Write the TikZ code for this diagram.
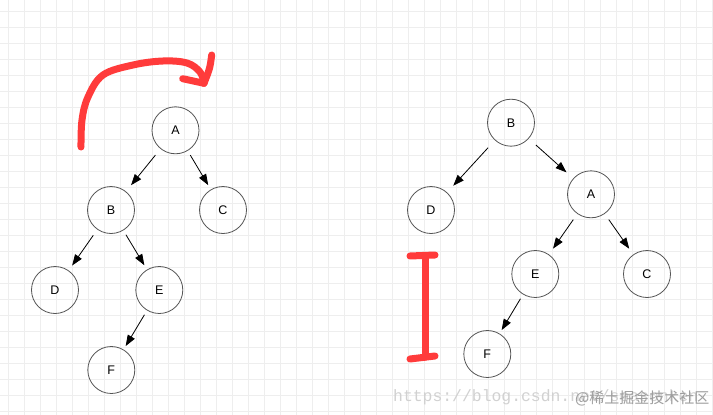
\documentclass[tikz,border=0pt]{standalone}
\usepackage{fontspec}
\setmainfont{Liberation Sans}
\newfontfamily\monofont{Liberation Mono}
\newfontfamily\cjkfont{Noto Sans CJK SC}
\usetikzlibrary{arrows.meta}
\definecolor{gridc}{HTML}{EEEEEE}
\definecolor{redpen}{HTML}{FF3B3B}
\definecolor{nodeline}{HTML}{555555}
\begin{document}
\begin{tikzpicture}[x=1pt,y=-1pt,
  tnode/.style={circle,draw=nodeline,line width=0.8pt,minimum size=47pt,inner sep=0pt,font=\fontsize{12.5}{14}\selectfont},
  link/.style={-{Triangle[length=11pt,width=8pt]},line width=0.8pt},
  pen/.style={redpen,line width=7pt,line cap=round,line join=round}]
\fill[white] (0,0) rectangle (713,415);
\useasboundingbox (0,0) rectangle (713,415);
\foreach \i in {0,...,44} \draw[gridc,line width=1pt] ({8.3+16*\i},0) -- ({8.3+16*\i},415);
\foreach \j in {0,...,25} \draw[gridc,line width=1pt] (0,{11.5+16*\j}) -- (713,{11.5+16*\j});

% left tree
\node[tnode] (lA) at (175.5,130.3) {A};
\node[tnode] (lB) at (111,210) {B};
\node[tnode] (lC) at (223,210) {C};
\node[tnode] (lD) at (55,290) {D};
\node[tnode] (lE) at (159.3,290) {E};
\node[tnode] (lF) at (111.3,370) {F};
\draw[link,shorten <=8pt,shorten >=8pt] (lA) -- (lB);
\draw[link,shorten <=5pt,shorten >=5pt] (lA) -- (lC);
\draw[link,shorten <=7pt,shorten >=6pt] (lB) -- (lD);
\draw[link,shorten <=5pt,shorten >=5pt] (lB) -- (lE);
\draw[link,shorten <=5pt,shorten >=4pt] (lE) -- (lF);

% right tree
\node[tnode] (rB) at (511,122.7) {B};
\node[tnode] (rD) at (431,210) {D};
\node[tnode] (rA) at (591,194.3) {A};
\node[tnode] (rE) at (535.3,274) {E};
\node[tnode] (rC) at (647,274) {C};
\node[tnode] (rF) at (487.3,354) {F};
\draw[link,shorten <=10pt,shorten >=9pt] (rB) -- (rD);
\draw[link,shorten <=9.5pt,shorten >=9pt] (rB) -- (rA);
\draw[link,shorten <=7pt,shorten >=7pt] (rA) -- (rE);
\draw[link,shorten <=7pt,shorten >=7pt] (rA) -- (rC);
\draw[link,shorten <=5pt,shorten >=4pt] (rE) -- (rF);

% red marks
\draw[pen] plot[smooth,tension=0.6] coordinates {(81,147) (82,120) (88,97) (103,75) (133,65) (163,61) (187,63) (200,72) (204,83)};
\draw[pen] (211.7,55) .. controls (210,68) .. (204,83.3);
\draw[pen] (182.7,78.7) -- (204,83.3);
\draw[pen] (410,256) -- (435,255);
\draw[pen] (425,256) -- (425,357);
\draw[pen] (410,359) -- (435,356);

% watermarks
\node[anchor=base west,inner sep=0pt,text=black!18,font=\monofont\fontsize{16.4}{18}\selectfont] (url) at (393,401) {https://blog.csdn.net/seasonken};
\node[anchor=base west,inner sep=0pt,text=black!38,font=\cjkfont\fontsize{15}{17}\selectfont] (juejin) at (575,403) {@稀土掘金技术社区};
\end{tikzpicture}
\end{document}
